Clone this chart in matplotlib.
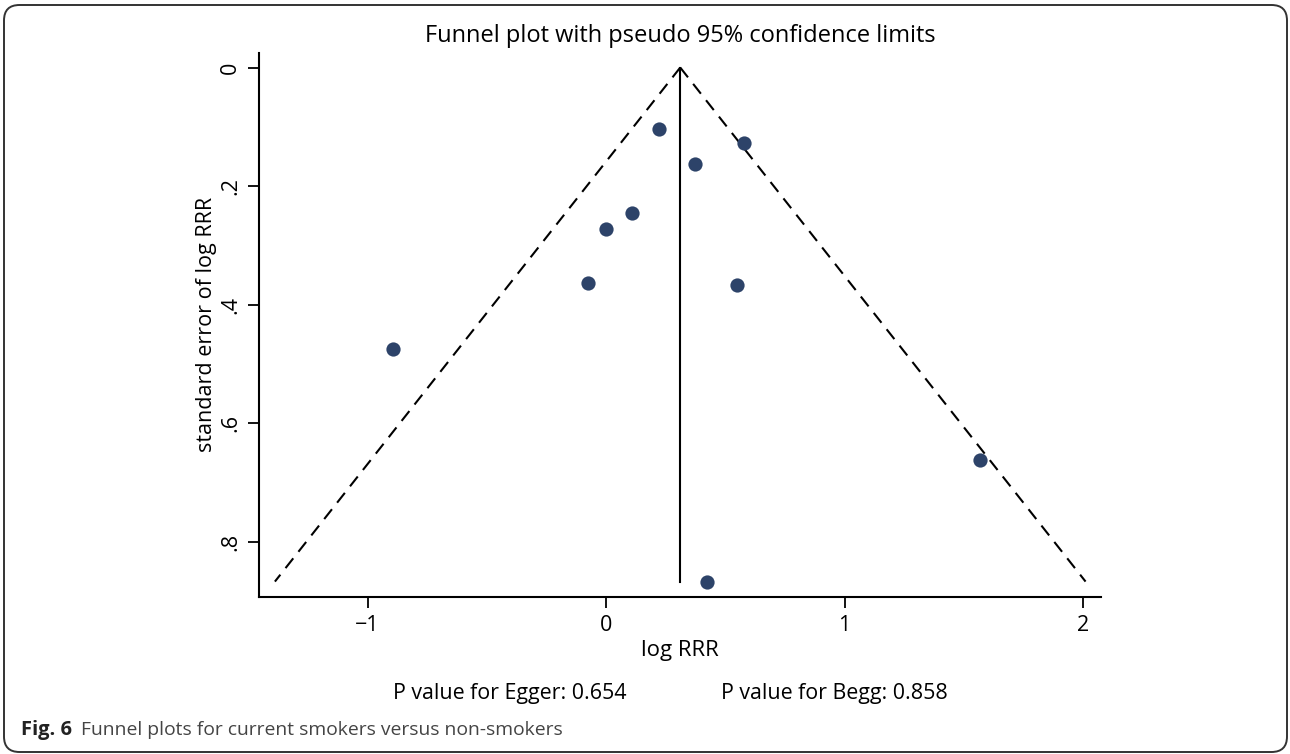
"""
Funnel plot for current smokers versus non-smokers (log RRR vs its standard error).
"""

import matplotlib.pyplot as plt
from matplotlib.patches import FancyBboxPatch

# study estimates
log_rrr = [0.223, 0.580, 0.374, 0.109, 0.000, -0.076, 0.550, -0.895, 1.567, 0.424]
se_log_rrr = [0.103, 0.128, 0.162, 0.246, 0.273, 0.364, 0.367, 0.475, 0.662, 0.867]

pooled = 0.311
se_max = 0.867

x_ticks = [-1, 0, 1, 2]
x_tick_labels = ["\u22121", "0", "1", "2"]
y_ticks = [0, 0.2, 0.4, 0.6, 0.8]
y_tick_labels = ["0", ".2", ".4", ".6", ".8"]

egger_p = "0.654"
begg_p = "0.858"

plt.rcParams['font.family'] = ['Open Sans', 'DejaVu Sans']

fig = plt.figure(figsize=(12.9, 7.54), dpi=100)

# rounded frame around the whole figure
frame = FancyBboxPatch((4 / 1290, 2 / 754), 1283 / 1290, 747 / 754,
                       boxstyle="round,pad=0,rounding_size=0.012",
                       transform=fig.transFigure, facecolor="none",
                       edgecolor="#333333", linewidth=1.4, mutation_aspect=1290 / 754)
fig.patches.append(frame)

ax = fig.add_axes([259 / 1290, 1 - 597 / 754, (1101 - 259) / 1290, (597 - 52.7) / 754])

# pseudo 95% limits
se_line = [0, se_max]
ax.plot([pooled - 1.96 * s for s in se_line], se_line, color="black",
        linestyle=(0, (6, 4)), linewidth=1.5)
ax.plot([pooled + 1.96 * s for s in se_line], se_line, color="black",
        linestyle=(0, (6, 4)), linewidth=1.5)
ax.plot([pooled, pooled], se_line, color="black", linewidth=1.5)

ax.scatter(log_rrr, se_log_rrr, s=105, color="#2d4369", zorder=3, linewidths=0)

ax.set_xlim(-1.455, 2.075)
ax.set_ylim(0.893, -0.025)

ax.set_xticks(x_ticks)
ax.set_xticklabels(x_tick_labels, fontsize=15.5)
ax.set_yticks(y_ticks)
ax.set_yticklabels(y_tick_labels, fontsize=15.5, rotation=90, va="center")

for side in ["top", "right"]:
    ax.spines[side].set_visible(False)
for side in ["left", "bottom"]:
    ax.spines[side].set_linewidth(1.5)
ax.tick_params(direction="out", length=8, width=1.3, pad=5)

ax.set_xlabel("log RRR", fontsize=16, labelpad=3)
ax.set_ylabel("standard error of log RRR", fontsize=15.5, labelpad=2)
ax.set_title("Funnel plot with pseudo 95% confidence limits", fontsize=17, pad=8)

fig.text(393 / 1290, 1 - 693 / 754, f"P value for Egger: {egger_p}", fontsize=15.4,
         va="center", ha="left")
fig.text(721 / 1290, 1 - 693 / 754, f"P value for Begg: {begg_p}", fontsize=15.4,
         va="center", ha="left")

fig.text(21 / 1290, 1 - 730 / 754, "Fig. 6", fontsize=14.5, fontweight="bold",
         va="center", ha="left", color="#222222")
fig.text(81 / 1290, 1 - 730 / 754, "Funnel plots for current smokers versus non-smokers",
         fontsize=13.9, va="center", ha="left", color="#444444")

plt.savefig("out.png", dpi=100)
